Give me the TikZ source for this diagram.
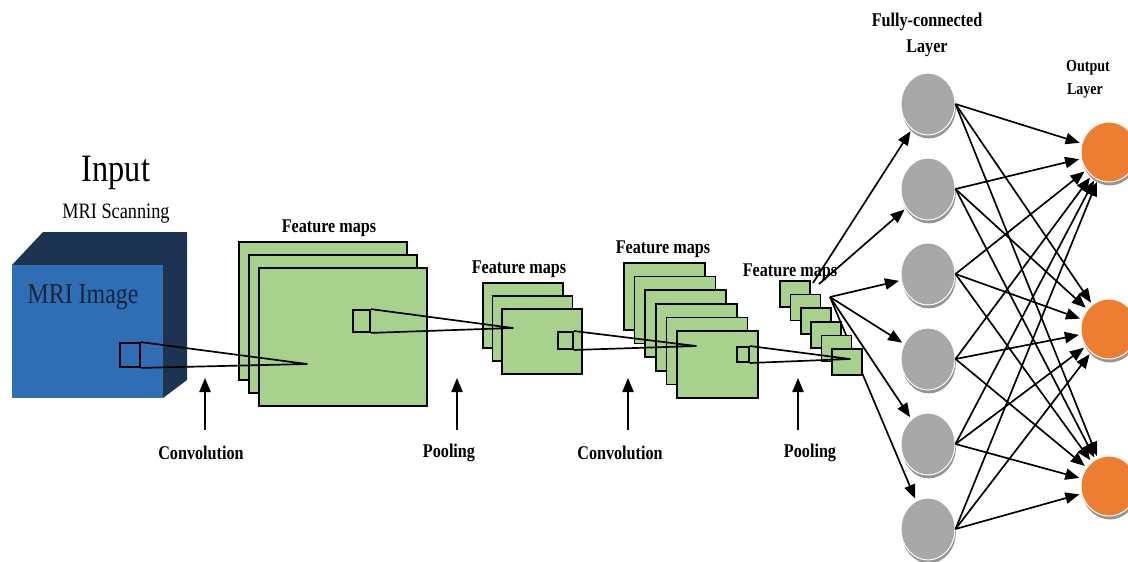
\documentclass[tikz,border=0pt]{standalone}
\usepackage{fontspec}
\setmainfont{Liberation Serif}
\usetikzlibrary{shapes.geometric, arrows.meta, shadows}
\definecolor{cubefront}{RGB}{47,110,181}
\definecolor{cubeside}{RGB}{28,51,82}
\definecolor{mapgreen}{RGB}{169,209,142}
\definecolor{fcgray}{RGB}{168,168,168}
\definecolor{outorange}{RGB}{237,125,49}
\newcommand{\tallbox}[1]{\scalebox{1}[1.2]{#1}}
\tikzset{fmap/.style={draw=black,fill=mapgreen,line width=1.25pt},
  win/.style={draw=black,line width=1.25pt,inner sep=0pt},
  wedge/.style={line width=1.2pt,line join=round},
  lbl/.style={font=\bfseries\fontsize{11.5}{13}\selectfont,inner sep=1pt},
  fc/.style={ellipse,fill=fcgray,draw=white,line width=0.7pt,inner sep=0pt,
    minimum width=1.35cm,minimum height=1.55cm,
    drop shadow={shadow xshift=0.6pt,shadow yshift=-2.4pt,fill=black!42,opacity=1}},
  onode/.style={fc,fill=outorange,minimum width=1.4cm,minimum height=1.5cm},
  link/.style={line width=1.2pt,-{Triangle[length=10pt,width=8pt]},shorten >=1.5pt},
  uparrow/.style={line width=1.2pt,-{Triangle[length=10pt,width=8pt]}}}

\begin{document}
\begin{tikzpicture}[x=0.025cm,y=-0.025cm]
  \useasboundingbox (0,0) rectangle (1128,561);
  \clip (0,0) rectangle (1128,561);

  % input cube
  \fill[cubeside] (12,265) -- (43,232) -- (187,232) -- (187,380) -- (163,398) -- (163,265) -- cycle;
  \fill[cubefront] (12,265) rectangle (163,398);
  \node[font=\fontsize{23}{26}\selectfont] (input) at (116,173) {\tallbox{Input}};
  \node[font=\fontsize{13}{15}\selectfont] (scan) at (116,214) {\tallbox{MRI Scanning}};
  \node[font=\fontsize{17}{20}\selectfont,text=cubeside!70!black] (img) at (83,297) {\tallbox{MRI Image}};

  % feature maps
  \foreach \k in {0,1,2}
    \draw[fmap] (239+10*\k,242+13*\k) rectangle ++(168,138);
  \foreach \k in {0,1,2}
    \draw[fmap] (483+9.5*\k,283+13*\k) rectangle ++(80,65);
  \foreach \k in {0,...,5}
    \draw[fmap] (624+10.6*\k,263+13.6*\k) rectangle ++(81,67);

  % fully-connected and output layer
  \foreach \i/\y in {1/104,2/189,3/274,4/359,5/444,6/529}
    \node[fc] (f\i) at (928,\y) {};
  \foreach \j/\y in {1/152,2/329,3/486}
    \node[onode] (o\j) at (1109,\y) {};

  \coordinate (s1) at (813,283);
  \coordinate (s2) at (819,284);
  \coordinate (s3) at (830,297);
  \draw[link] (s1) -- (f1);
  \draw[link] (s2) -- (f2);
  \foreach \i in {3,...,6}
    \draw[link] (s3) -- (f\i);
  \foreach \i in {1,...,6}
    \foreach \j in {1,2,3}
      \draw[link] (f\i.east) -- (o\j);

  \foreach \k in {0,...,5}
    \draw[fmap] (780+10.4*\k,281+13.6*\k) rectangle ++(30,26);

  % receptive fields
  \node[win,minimum width=0.5cm,minimum height=0.6cm] (w0) at (130,355) {};
  \node[win,minimum width=0.43cm,minimum height=0.55cm] (w1) at (361.5,321) {};
  \node[win,minimum width=0.38cm,minimum height=0.43cm] (w2) at (565.5,340.5) {};
  \node[win,minimum width=0.3cm,minimum height=0.38cm] (w3) at (743,354.5) {};
  \coordinate (p1) at (307,364);
  \coordinate (p2) at (513,328);
  \coordinate (p3) at (696,346);
  \coordinate (p4) at (850,359);
  \draw[wedge] (w0.north east) -- (p1) -- (w0.south east);
  \draw[wedge] (w1.north east) -- (p2) -- (w1.south east);
  \draw[wedge] (w2.north east) -- (p3) -- (w2.south east);
  \draw[wedge] (w3.north east) -- (p4) -- (w3.south east);

  % labels
  \node[lbl] (fm1) at (329,228) {\tallbox{Feature maps}};
  \node[lbl] (fm2) at (519,269) {\tallbox{Feature maps}};
  \node[lbl] (fm3) at (663,249) {\tallbox{Feature maps}};
  \node[lbl] (fm4) at (790,272) {\tallbox{Feature maps}};
  \node[lbl] (fclbl) at (927,22) {\tallbox{Fully-connected}};
  \node[lbl] (fclbl2) at (927,48) {\tallbox{Layer}};
  \node[lbl,font=\bfseries\fontsize{10}{12}\selectfont] (outlbl) at (1088,68) {\tallbox{Output}};
  \node[lbl,font=\bfseries\fontsize{10}{12}\selectfont] (outlbl2) at (1085,91) {\tallbox{Layer}};

  % operations
  \node[lbl] (conv1) at (201,453) {\tallbox{Convolution}};
  \node[lbl] (pool1) at (449,453) {\tallbox{Pooling}};
  \node[lbl] (conv2) at (620,453) {\tallbox{Convolution}};
  \node[lbl] (pool2) at (810,453) {\tallbox{Pooling}};
  \coordinate (a1) at (205,430);
  \coordinate (a2) at (457,430);
  \coordinate (a3) at (628,430);
  \coordinate (a4) at (798,430);
  \foreach \a in {a1,a2,a3,a4}
    \draw[uparrow] (\a) -- ++(0,-52);
\end{tikzpicture}
\end{document}
